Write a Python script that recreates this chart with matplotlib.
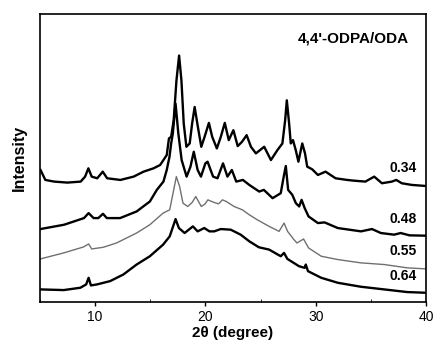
import matplotlib
matplotlib.use("Agg")
import matplotlib.pyplot as plt
from matplotlib.ticker import MultipleLocator

# 2theta (degree) and intensity (arbitrary units, curves already offset)
x_034 = [5.06, 5.5, 6.3, 7.5, 8.7, 9.1, 9.4, 9.7, 10.2, 10.7, 11.1, 12.3, 13.5, 14.4, 15.3,
         15.9, 16.5, 16.7, 16.9, 17.13, 17.38, 17.62, 17.83, 18.04, 18.28, 18.58, 18.8, 19.03,
         19.27, 19.63, 19.93, 20.32, 20.62, 21.04, 21.4, 21.76, 22.12, 22.54, 22.93, 23.32,
         23.74, 24.13, 24.58, 25.33, 25.94, 26.53, 26.98, 27.23, 27.38, 27.59, 27.74, 27.94,
         28.19, 28.43, 28.78, 29.03, 29.23, 29.68, 30.2, 30.89, 31.8, 32.85, 33.4, 34.5,
         35.3, 36.0, 36.9, 37.3, 37.8, 38.7, 39.9]
y_034 = [398, 368, 363, 360, 363, 378, 403, 378, 373, 393, 373, 368, 378, 393, 403,
         413, 443, 493, 498, 548, 668, 743, 668, 538, 468, 478, 538, 588,
         538, 468, 498, 540, 498, 463, 498, 540, 488, 518, 470, 483,
         503, 468, 448, 468, 428, 458, 478, 548, 608, 538, 478, 488,
         458, 423, 478, 448, 408, 400, 383, 393, 373, 368, 366, 363,
         378, 358, 363, 368, 358, 353, 350]

x_048 = [5.06, 7.2, 9.0, 9.42, 9.87, 10.3, 10.72, 11.07, 12.27, 13.77, 14.97, 15.6, 16.2, 16.5,
         16.75, 16.9, 17.05, 17.3, 17.55, 17.85, 18.3, 18.65, 18.95, 19.3, 19.6, 20.0, 20.2,
         20.7, 21.1, 21.6, 22.0, 22.4, 22.8, 23.4, 23.98, 24.88, 25.3, 26.09, 26.83, 27.1,
         27.29, 27.5, 27.88, 28.2, 28.5, 28.72, 29.0, 29.35, 30.2, 30.8, 32.0, 34.1,
         35.1, 35.9, 37.1, 37.7, 38.5, 39.9]
y_048 = [220, 233, 253, 268, 253, 253, 266, 253, 253, 273, 303, 338, 363, 398,
         438, 478, 508, 598, 508, 428, 378, 408, 453, 398, 378, 418, 423,
         378, 373, 418, 378, 398, 363, 368, 353, 333, 338, 313, 328, 378,
         410, 338, 323, 298, 288, 308, 283, 258, 238, 240, 223, 213,
         220, 208, 203, 208, 201, 200]

x_055 = [5.06, 7.16, 8.96, 9.42, 9.7, 10.75, 11.95, 13.77, 14.97, 16.17, 16.77, 17.07,
         17.37, 17.67, 17.97, 18.4, 18.8, 19.13, 19.63, 19.95, 20.23, 20.8, 21.2, 21.55,
         21.9, 22.6, 23.35, 23.98, 24.7, 25.78, 26.68, 27.13, 27.45, 28.03, 28.3, 28.9,
         29.35, 30.5, 32.0, 34.1, 36.2, 38.3, 39.9]
y_055 = [130, 148, 166, 175, 160, 165, 178, 208, 233, 268, 278, 328,
         378, 348, 298, 288, 300, 318, 288, 295, 308, 300, 296, 308,
         303, 288, 278, 263, 248, 228, 213, 238, 213, 188, 178, 190,
         163, 138, 128, 118, 113, 103, 100]

x_064 = [5.06, 7.16, 8.67, 9.2, 9.42, 9.63, 10.17, 11.37, 12.57, 13.77, 14.97, 16.17, 16.77,
         17.3, 17.6, 18.12, 18.87, 19.3, 19.9, 20.37, 20.8, 21.4, 22.3, 23.2, 23.98, 24.85,
         25.78, 26.83, 27.13, 27.43, 28.48, 29.0, 29.1, 29.3, 30.5, 32.0, 34.1, 36.2,
         38.3, 39.9]
y_064 = [38, 36, 43, 53, 73, 50, 53, 63, 83, 113, 138, 173, 198,
         250, 223, 208, 228, 213, 223, 213, 213, 220, 218, 203, 183, 165,
         158, 138, 148, 130, 108, 103, 113, 93, 73, 58, 46, 38,
         30, 28]

labels = ["0.34", "0.48", "0.55", "0.64"]
label_y = [383, 228, 133, 56]
title_text = "4,4'-ODPA/ODA"
x_ticks = [10, 20, 30, 40]

FONT = "Liberation Sans"

fig = plt.figure(figsize=(4.33, 3.52), dpi=100)
ax = fig.add_axes([0.092, 0.142, 0.892, 0.818])

series = [(x_034, y_034), (x_048, y_048), (x_055, y_055), (x_064, y_064)]
styles = [dict(color="black", lw=1.7), dict(color="black", lw=1.7),
          dict(color="#707070", lw=1.0), dict(color="black", lw=1.7)]
for (xs, ys), st in zip(series, styles):
    ax.plot(xs, ys, **st)

for lab, ly in zip(labels, label_y):
    ax.text(39.2, ly, lab, ha="right", va="bottom", fontsize=10, fontweight="bold",
            family=FONT)

ax.text(0.955, 0.915, title_text, transform=ax.transAxes, ha="right", va="center",
        fontsize=11, fontweight="bold", family=FONT)

ax.set_xlim(5, 40)
ax.set_ylim(0, 868)
ax.set_xticks(x_ticks)
ax.xaxis.set_minor_locator(MultipleLocator(5))
ax.set_yticks([])
ax.tick_params(axis="x", direction="out", length=3, width=1, labelsize=10, pad=3)
ax.tick_params(axis="x", which="minor", direction="in", length=2)
for lab in ax.get_xticklabels():
    lab.set_family(FONT)
for sp in ax.spines.values():
    sp.set_linewidth(1.2)

ax.set_xlabel("2θ (degree)", fontsize=11, fontweight="bold", family=FONT, labelpad=1)
ax.set_ylabel("Intensity", fontsize=11.5, fontweight="bold", family=FONT, labelpad=9)

fig.savefig("out.png", dpi=100)
